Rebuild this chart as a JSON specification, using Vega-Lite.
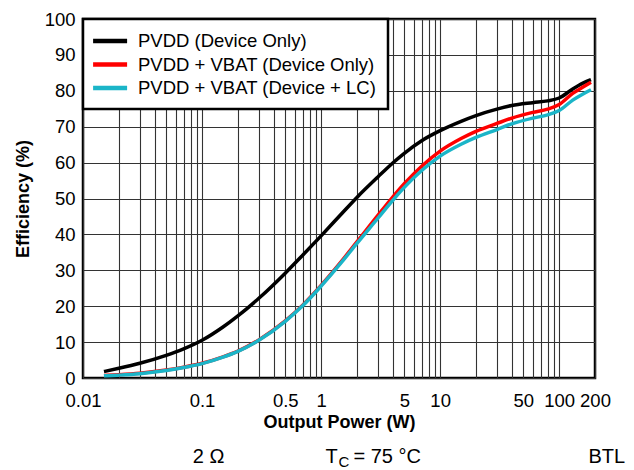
{
  "$schema": "https://vega.github.io/schema/vega-lite/v6.json",
  "width": 512,
  "height": 359,
  "autosize": "none",
  "padding": {"left": 83, "top": 19, "right": 39, "bottom": 92},
  "background": "white",
  "config": {
    "font": "Liberation Sans",
    "view": {"stroke": "black", "strokeWidth": 2.5},
    "axis": {
      "labelFont": "Liberation Sans",
      "labelFontSize": 18.5,
      "labelColor": "black",
      "titleFont": "Liberation Sans",
      "titleFontSize": 18,
      "titleFontWeight": "bold",
      "titleColor": "black",
      "domain": false,
      "ticks": false,
      "tickSize": 0,
      "gridColor": "#333333",
      "gridWidth": 1.1,
      "gridOpacity": 1,
      "labelOverlap": false,
      "labelBound": false,
      "labelFlush": false
    },
    "legend": {
      "orient": "top-left",
      "offset": 0,
      "fillColor": "white",
      "strokeColor": "black",
      "strokeWidth": 2.5,
      "padding": 11,
      "labelFont": "Liberation Sans",
      "labelFontSize": 18.5,
      "labelColor": "black",
      "labelLimit": 500,
      "labelOffset": 22,
      "rowPadding": 2.5,
      "symbolType": "M-1.4,0H2.6",
      "symbolSize": 289,
      "symbolStrokeWidth": 4.5
    }
  },
  "datasets": {
    "curves": [
      {"p": 0.015, "eff": 1.8, "s": "PVDD (Device Only)"},
      {"p": 0.02, "eff": 2.7, "s": "PVDD (Device Only)"},
      {"p": 0.03, "eff": 4.1, "s": "PVDD (Device Only)"},
      {"p": 0.05, "eff": 6.3, "s": "PVDD (Device Only)"},
      {"p": 0.07, "eff": 8.1, "s": "PVDD (Device Only)"},
      {"p": 0.1, "eff": 10.5, "s": "PVDD (Device Only)"},
      {"p": 0.15, "eff": 14.2, "s": "PVDD (Device Only)"},
      {"p": 0.2, "eff": 17.3, "s": "PVDD (Device Only)"},
      {"p": 0.3, "eff": 22.2, "s": "PVDD (Device Only)"},
      {"p": 0.5, "eff": 29.2, "s": "PVDD (Device Only)"},
      {"p": 0.7, "eff": 34.2, "s": "PVDD (Device Only)"},
      {"p": 1, "eff": 39.6, "s": "PVDD (Device Only)"},
      {"p": 1.5, "eff": 45.9, "s": "PVDD (Device Only)"},
      {"p": 2, "eff": 50.3, "s": "PVDD (Device Only)"},
      {"p": 3, "eff": 56, "s": "PVDD (Device Only)"},
      {"p": 4, "eff": 59.9, "s": "PVDD (Device Only)"},
      {"p": 5, "eff": 62.6, "s": "PVDD (Device Only)"},
      {"p": 7, "eff": 66.1, "s": "PVDD (Device Only)"},
      {"p": 10, "eff": 68.9, "s": "PVDD (Device Only)"},
      {"p": 15, "eff": 71.5, "s": "PVDD (Device Only)"},
      {"p": 20, "eff": 73.1, "s": "PVDD (Device Only)"},
      {"p": 30, "eff": 74.9, "s": "PVDD (Device Only)"},
      {"p": 40, "eff": 75.9, "s": "PVDD (Device Only)"},
      {"p": 60, "eff": 76.7, "s": "PVDD (Device Only)"},
      {"p": 80, "eff": 77.2, "s": "PVDD (Device Only)"},
      {"p": 100, "eff": 78, "s": "PVDD (Device Only)"},
      {"p": 130, "eff": 80.5, "s": "PVDD (Device Only)"},
      {"p": 160, "eff": 82.2, "s": "PVDD (Device Only)"},
      {"p": 185, "eff": 83.1, "s": "PVDD (Device Only)"},
      {"p": 0.015, "eff": 0.7, "s": "PVDD + VBAT (Device Only)"},
      {"p": 0.02, "eff": 0.9, "s": "PVDD + VBAT (Device Only)"},
      {"p": 0.03, "eff": 1.3, "s": "PVDD + VBAT (Device Only)"},
      {"p": 0.05, "eff": 2.2, "s": "PVDD + VBAT (Device Only)"},
      {"p": 0.07, "eff": 3, "s": "PVDD + VBAT (Device Only)"},
      {"p": 0.1, "eff": 4.1, "s": "PVDD + VBAT (Device Only)"},
      {"p": 0.15, "eff": 5.9, "s": "PVDD + VBAT (Device Only)"},
      {"p": 0.2, "eff": 7.5, "s": "PVDD + VBAT (Device Only)"},
      {"p": 0.3, "eff": 10.6, "s": "PVDD + VBAT (Device Only)"},
      {"p": 0.5, "eff": 15.9, "s": "PVDD + VBAT (Device Only)"},
      {"p": 0.7, "eff": 20.3, "s": "PVDD + VBAT (Device Only)"},
      {"p": 1, "eff": 25.8, "s": "PVDD + VBAT (Device Only)"},
      {"p": 1.5, "eff": 32.7, "s": "PVDD + VBAT (Device Only)"},
      {"p": 2, "eff": 37.9, "s": "PVDD + VBAT (Device Only)"},
      {"p": 3, "eff": 45.3, "s": "PVDD + VBAT (Device Only)"},
      {"p": 4, "eff": 50.4, "s": "PVDD + VBAT (Device Only)"},
      {"p": 5, "eff": 54.1, "s": "PVDD + VBAT (Device Only)"},
      {"p": 7, "eff": 59, "s": "PVDD + VBAT (Device Only)"},
      {"p": 10, "eff": 63.2, "s": "PVDD + VBAT (Device Only)"},
      {"p": 15, "eff": 66.7, "s": "PVDD + VBAT (Device Only)"},
      {"p": 20, "eff": 68.7, "s": "PVDD + VBAT (Device Only)"},
      {"p": 30, "eff": 70.9, "s": "PVDD + VBAT (Device Only)"},
      {"p": 40, "eff": 72.4, "s": "PVDD + VBAT (Device Only)"},
      {"p": 60, "eff": 74, "s": "PVDD + VBAT (Device Only)"},
      {"p": 80, "eff": 74.9, "s": "PVDD + VBAT (Device Only)"},
      {"p": 100, "eff": 76.2, "s": "PVDD + VBAT (Device Only)"},
      {"p": 130, "eff": 79.3, "s": "PVDD + VBAT (Device Only)"},
      {"p": 160, "eff": 81.1, "s": "PVDD + VBAT (Device Only)"},
      {"p": 185, "eff": 82.4, "s": "PVDD + VBAT (Device Only)"},
      {"p": 0.015, "eff": 0.6, "s": "PVDD + VBAT (Device + LC)"},
      {"p": 0.02, "eff": 0.8, "s": "PVDD + VBAT (Device + LC)"},
      {"p": 0.03, "eff": 1.2, "s": "PVDD + VBAT (Device + LC)"},
      {"p": 0.05, "eff": 2.1, "s": "PVDD + VBAT (Device + LC)"},
      {"p": 0.07, "eff": 2.9, "s": "PVDD + VBAT (Device + LC)"},
      {"p": 0.1, "eff": 4, "s": "PVDD + VBAT (Device + LC)"},
      {"p": 0.15, "eff": 5.8, "s": "PVDD + VBAT (Device + LC)"},
      {"p": 0.2, "eff": 7.4, "s": "PVDD + VBAT (Device + LC)"},
      {"p": 0.3, "eff": 10.5, "s": "PVDD + VBAT (Device + LC)"},
      {"p": 0.5, "eff": 15.8, "s": "PVDD + VBAT (Device + LC)"},
      {"p": 0.7, "eff": 20.1, "s": "PVDD + VBAT (Device + LC)"},
      {"p": 1, "eff": 25.6, "s": "PVDD + VBAT (Device + LC)"},
      {"p": 1.5, "eff": 32.4, "s": "PVDD + VBAT (Device + LC)"},
      {"p": 2, "eff": 37.5, "s": "PVDD + VBAT (Device + LC)"},
      {"p": 3, "eff": 44.5, "s": "PVDD + VBAT (Device + LC)"},
      {"p": 4, "eff": 49.5, "s": "PVDD + VBAT (Device + LC)"},
      {"p": 5, "eff": 53.1, "s": "PVDD + VBAT (Device + LC)"},
      {"p": 7, "eff": 57.8, "s": "PVDD + VBAT (Device + LC)"},
      {"p": 10, "eff": 61.8, "s": "PVDD + VBAT (Device + LC)"},
      {"p": 15, "eff": 65.1, "s": "PVDD + VBAT (Device + LC)"},
      {"p": 20, "eff": 67, "s": "PVDD + VBAT (Device + LC)"},
      {"p": 30, "eff": 69.2, "s": "PVDD + VBAT (Device + LC)"},
      {"p": 40, "eff": 70.8, "s": "PVDD + VBAT (Device + LC)"},
      {"p": 60, "eff": 72.4, "s": "PVDD + VBAT (Device + LC)"},
      {"p": 80, "eff": 73.3, "s": "PVDD + VBAT (Device + LC)"},
      {"p": 100, "eff": 74.5, "s": "PVDD + VBAT (Device + LC)"},
      {"p": 130, "eff": 77.4, "s": "PVDD + VBAT (Device + LC)"},
      {"p": 160, "eff": 79.2, "s": "PVDD + VBAT (Device + LC)"},
      {"p": 185, "eff": 80.3, "s": "PVDD + VBAT (Device + LC)"}
    ],
    "notes": [
      {"note": "2 Ω", "at": 0.0835},
      {"note": "T", "at": 1.087},
      {"note": "= 75 °C", "at": 1.87},
      {"note": "BTL", "at": 176}
    ],
    "subs": [
      {"note": "C", "at": 1.40}
    ]
  },
  "layer": [
    {
      "data": {"name": "curves"},
      "mark": {"type": "line", "strokeWidth": 3.5, "interpolate": "monotone"},
      "encoding": {
        "x": {
          "field": "p",
          "type": "quantitative",
          "title": "Output Power (W)",
          "scale": {"type": "log", "domain": [0.01, 200], "nice": false},
          "axis": {
            "values": [0.01, 0.02, 0.03, 0.04, 0.05, 0.06, 0.07, 0.08, 0.09, 0.1, 0.2, 0.3, 0.4, 0.5, 0.6, 0.7, 0.8, 0.9, 1, 2, 3, 4, 5, 6, 7, 8, 9, 10, 20, 30, 40, 50, 60, 70, 80, 90, 100, 200],
            "format": "~g",
            "labelExpr": "indexof([0.01, 0.1, 0.5, 1, 5, 10, 50, 100, 200], datum.value) >= 0 ? datum.label : ''",
            "labelPadding": 13,
            "titlePadding": 4,
            "grid": true
          }
        },
        "y": {
          "field": "eff",
          "type": "quantitative",
          "title": "Efficiency (%)",
          "scale": {"domain": [0, 100], "nice": false},
          "axis": {
            "values": [0, 10, 20, 30, 40, 50, 60, 70, 80, 90, 100],
            "labelPadding": 8,
            "titlePadding": 12,
            "grid": true
          }
        },
        "color": {
          "field": "s",
          "type": "nominal",
          "scale": {
            "domain": ["PVDD (Device Only)", "PVDD + VBAT (Device Only)", "PVDD + VBAT (Device + LC)"],
            "range": ["#000000", "#ff0000", "#1bb5c8"]
          },
          "legend": {"title": null}
        }
      }
    },
    {
      "data": {"name": "notes"},
      "mark": {"type": "text", "fontSize": 20, "align": "left", "baseline": "alphabetic", "color": "black"},
      "encoding": {
        "x": {
          "field": "at",
          "type": "quantitative",
          "title": "Output Power (W)",
          "scale": {"type": "log", "domain": [0.01, 200], "nice": false},
          "axis": {
            "values": [0.01, 0.02, 0.03, 0.04, 0.05, 0.06, 0.07, 0.08, 0.09, 0.1, 0.2, 0.3, 0.4, 0.5, 0.6, 0.7, 0.8, 0.9, 1, 2, 3, 4, 5, 6, 7, 8, 9, 10, 20, 30, 40, 50, 60, 70, 80, 90, 100, 200],
            "format": "~g",
            "labelExpr": "indexof([0.01, 0.1, 0.5, 1, 5, 10, 50, 100, 200], datum.value) >= 0 ? datum.label : ''",
            "labelPadding": 13,
            "titlePadding": 4,
            "grid": true
          }
        },
        "y": {
          "datum": -23.7,
          "type": "quantitative",
          "title": "Efficiency (%)",
          "scale": {"domain": [0, 100], "nice": false},
          "axis": {
            "values": [0, 10, 20, 30, 40, 50, 60, 70, 80, 90, 100],
            "labelPadding": 8,
            "titlePadding": 12,
            "grid": true
          }
        },
        "text": {"field": "note"}
      }
    },
    {
      "data": {"name": "subs"},
      "mark": {"type": "text", "fontSize": 15, "align": "left", "baseline": "alphabetic", "color": "black"},
      "encoding": {
        "x": {
          "field": "at",
          "type": "quantitative",
          "title": "Output Power (W)",
          "scale": {"type": "log", "domain": [0.01, 200], "nice": false},
          "axis": {
            "values": [0.01, 0.02, 0.03, 0.04, 0.05, 0.06, 0.07, 0.08, 0.09, 0.1, 0.2, 0.3, 0.4, 0.5, 0.6, 0.7, 0.8, 0.9, 1, 2, 3, 4, 5, 6, 7, 8, 9, 10, 20, 30, 40, 50, 60, 70, 80, 90, 100, 200],
            "format": "~g",
            "labelExpr": "indexof([0.01, 0.1, 0.5, 1, 5, 10, 50, 100, 200], datum.value) >= 0 ? datum.label : ''",
            "labelPadding": 13,
            "titlePadding": 4,
            "grid": true
          }
        },
        "y": {
          "datum": -24.8,
          "type": "quantitative",
          "title": "Efficiency (%)",
          "scale": {"domain": [0, 100], "nice": false},
          "axis": {
            "values": [0, 10, 20, 30, 40, 50, 60, 70, 80, 90, 100],
            "labelPadding": 8,
            "titlePadding": 12,
            "grid": true
          }
        },
        "text": {"field": "note"}
      }
    }
  ]
}
